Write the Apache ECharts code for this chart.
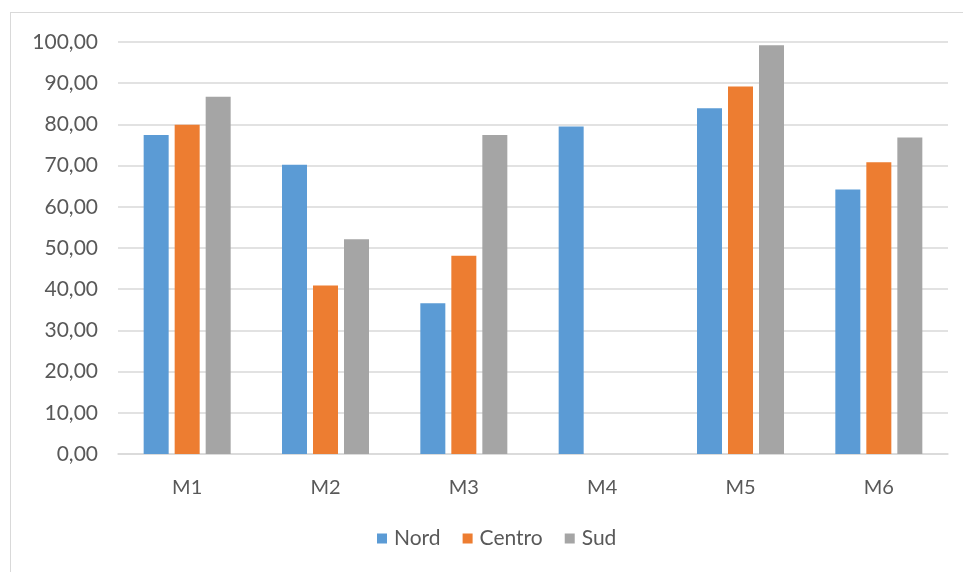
<!DOCTYPE html>
<html>
<head>
<meta charset="utf-8">
<script src="https://cdn.jsdelivr.net/npm/echarts@6/dist/echarts.min.js"></script>
<style>
html,body{margin:0;padding:0;background:#fff;}
#wrap{position:absolute;left:0;top:0;width:963px;height:572px;overflow:hidden;}
#frame{position:absolute;left:10px;top:12px;width:1000px;height:700px;border:1px solid #d9d9d9;box-sizing:border-box;}
#chart{position:absolute;left:0;top:0;width:963px;height:572px;}
</style>
</head>
<body>
<div id="wrap"><div id="frame"></div><div id="chart"></div></div>
<script>
const categories = ['M1','M2','M3','M4','M5','M6'];
const nord   = [77.4, 70.2, 36.6, 79.5, 83.9, 64.2];
const centro = [79.9, 40.9, 48.1, null, 89.2, 70.8];
const sud    = [86.7, 52.1, 77.4, null, 99.2, 76.8];
const seriesNames = ['Nord','Centro','Sud'];
const colors = ['#5b9bd5','#ed7d31','#a5a5a5'];

const chart = echarts.init(document.getElementById('chart'), null, {renderer:'canvas'});
const font = 'Lato, "Open Sans", sans-serif';
const mk = (name, data, c) => ({
  name, type:'bar', data, barWidth:25, barGap:'24%',
  itemStyle:{color:c}, emphasis:{disabled:true}
});
chart.setOption({
  animation:false,
  textStyle:{fontFamily:font},
  grid:{left:118, right:15, top:42, bottom:118},
  legend:{
    data:seriesNames, bottom:18, left:372,
    itemWidth:10, itemHeight:10, itemGap:22,
    icon:'rect',
    textStyle:{color:'#595959', fontSize:21, fontFamily:font, padding:[0,0,0,2]}
  },
  xAxis:{
    type:'category', data:categories,
    axisLine:{lineStyle:{color:'#d9d9d9', width:1.5}},
    axisTick:{show:false},
    axisLabel:{color:'#595959', fontSize:20, margin:24, fontFamily:font}
  },
  yAxis:{
    type:'value', min:0, max:100, interval:10,
    axisLine:{show:false}, axisTick:{show:false},
    splitLine:{lineStyle:{color:'#d9d9d9', width:1.5}},
    axisLabel:{color:'#595959', fontSize:21, margin:20, fontFamily:font,
      formatter:v=>v.toFixed(2).replace('.',',')}
  },
  series:[mk('Nord',nord,colors[0]), mk('Centro',centro,colors[1]), mk('Sud',sud,colors[2])]
});
</script>
</body>
</html>
